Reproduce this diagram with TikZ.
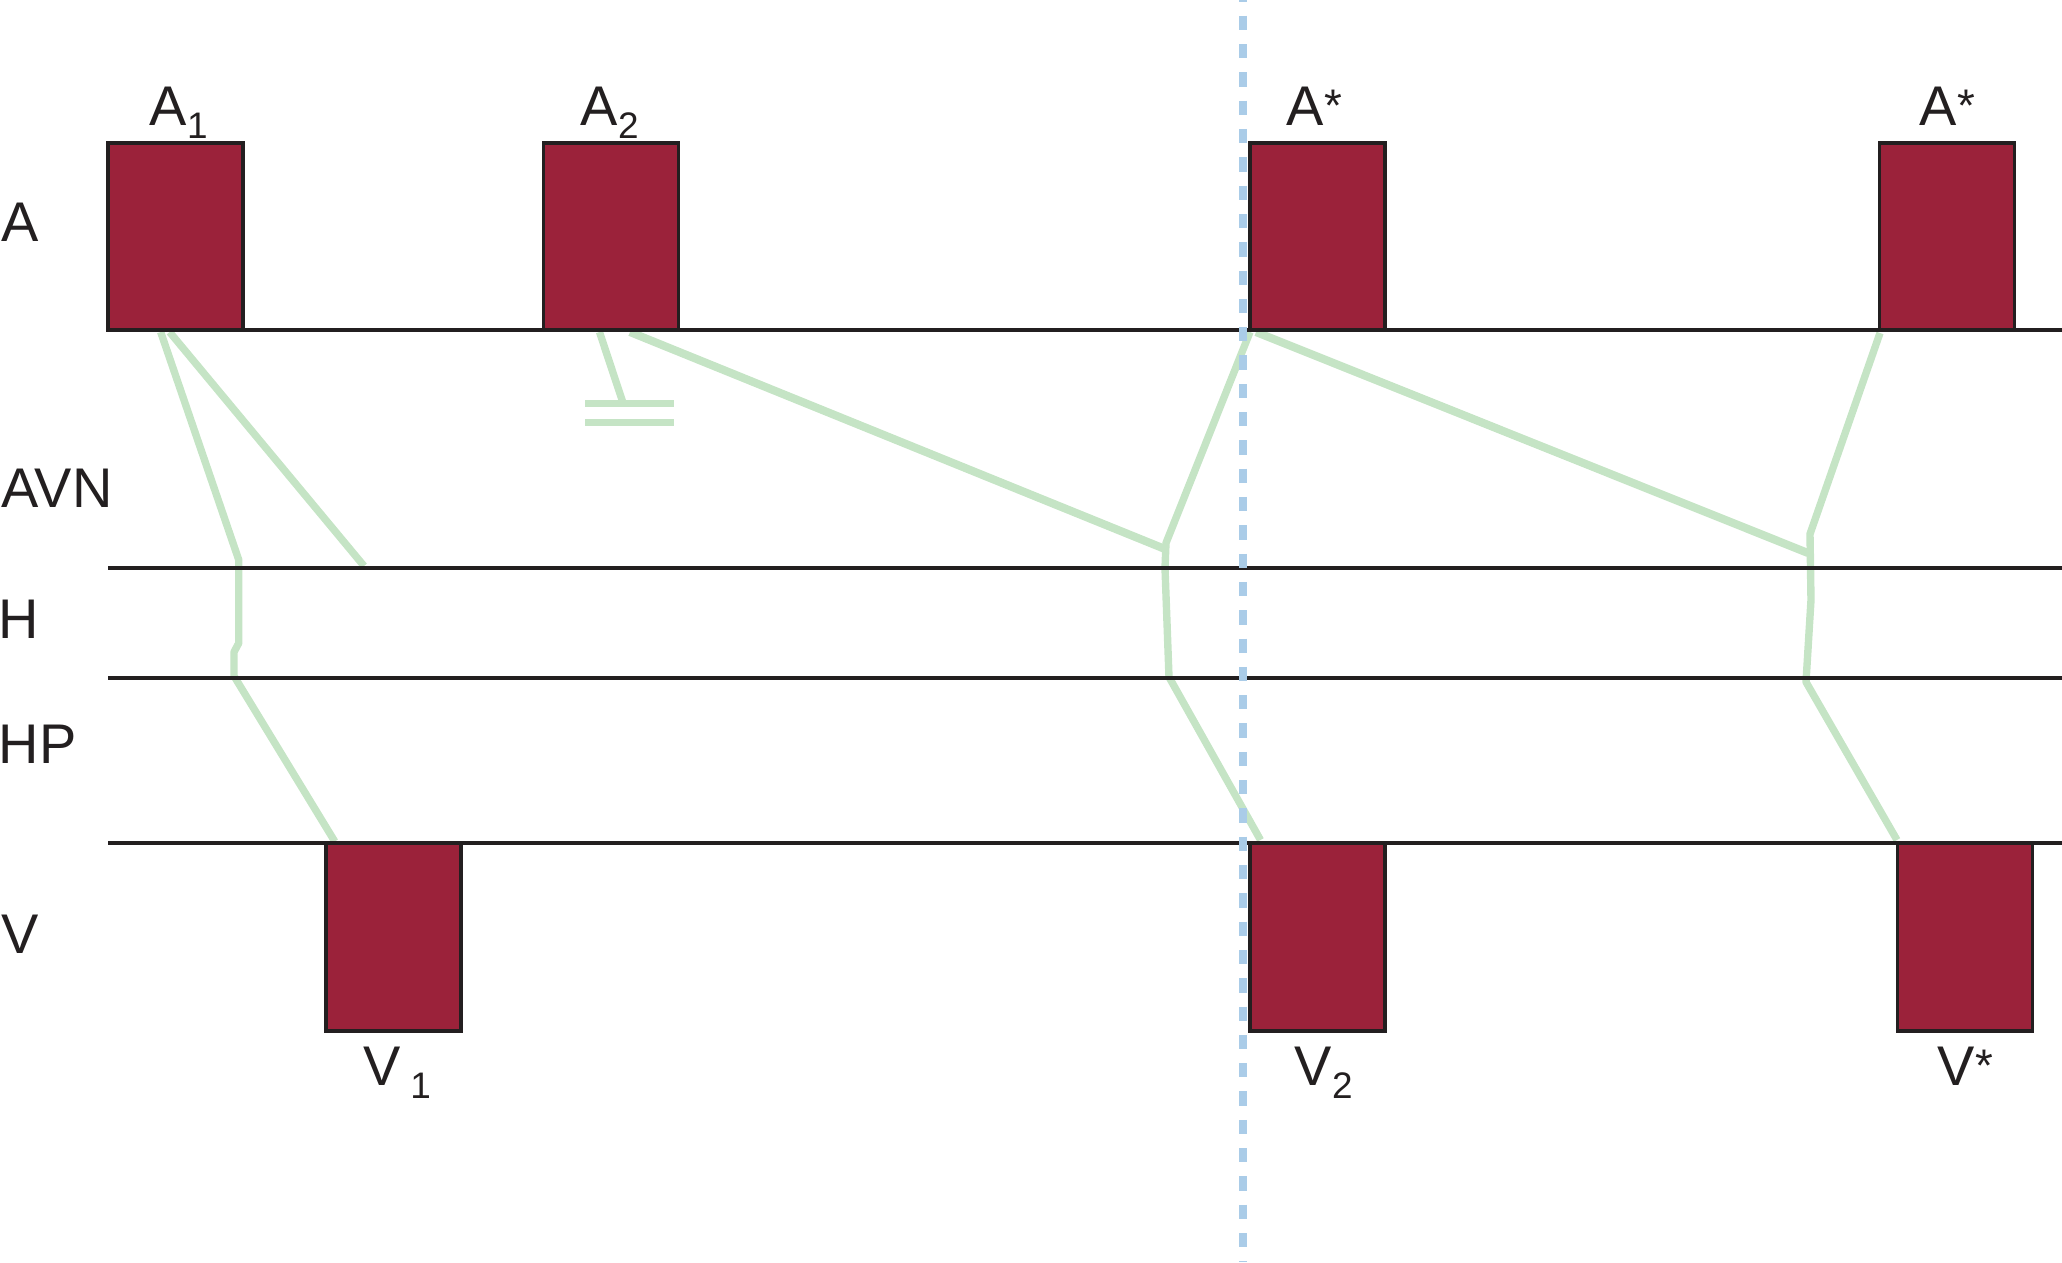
\documentclass[tikz,border=0pt]{standalone}
\usepackage{fontspec}
\setmainfont{Liberation Sans}
\definecolor{inkblack}{RGB}{35,31,32}
\definecolor{pulsered}{RGB}{155,34,58}
\definecolor{condgreen}{RGB}{197,228,197}
\definecolor{markblue}{RGB}{170,204,232}
\newcommand\sbs[1]{\raisebox{-3.8pt}{\fontsize{10.5}{12}\selectfont #1}}
\newcommand\stl{\raisebox{0.9pt}{\fontsize{13}{13}\selectfont *}}
\begin{document}
\begin{tikzpicture}[x=0.01cm,y=-0.01cm,
  axisline/.style={draw=inkblack,line width=1.1pt},
  pulse/.style={draw=inkblack,fill=pulsered,line width=1.1pt,minimum width=1.35cm,minimum height=1.875cm,inner sep=0pt,outer sep=0pt},
  cond/.style={draw=condgreen,line width=2.1pt,line join=round},
  condthick/.style={draw=condgreen,line width=2.3pt,line join=round},
  block/.style={draw=condgreen,line width=2pt},
  lbl/.style={font=\fontsize{15.9}{19}\selectfont,inner sep=0pt,anchor=base west,text=inkblack},
  marker/.style={draw=markblue,line width=2.1pt,dash pattern=on 4.07pt off 3.98pt,dash phase=3.58pt}]
\useasboundingbox (0,0) rectangle (2062,1262);

% coordinates of the ladder
\coordinate (aL) at (108,330);  \coordinate (aR) at (2062,330);
\coordinate (hL) at (108,568);  \coordinate (hR) at (2062,568);
\coordinate (hpL) at (108,678); \coordinate (hpR) at (2062,678);
\coordinate (vL) at (108,843);  \coordinate (vR) at (2062,843);

% conduction paths
\coordinate (p1a) at (160.7,332); \coordinate (p1b) at (238.8,560);
\coordinate (p1c) at (238.8,643); \coordinate (p1d) at (234,652);
\coordinate (p1e) at (234,676); \coordinate (p1f) at (334.8,841.5);
\draw[cond] (p1a) -- (p1b) -- (p1c) -- (p1d) -- (p1e) -- (p1f);

\coordinate (p2a) at (169.6,332); \coordinate (p2b) at (364,566);
\draw[cond] (p2a) -- (p2b);

\coordinate (p3a) at (599.5,332); \coordinate (p3b) at (622.4,401);
\draw[cond] (p3a) -- (p3b);
\coordinate (b1l) at (585,403); \coordinate (b1r) at (674,403);
\coordinate (b2l) at (585,422); \coordinate (b2r) at (674,422);
\draw[block] (b1l) -- (b1r);
\draw[block] (b2l) -- (b2r);

\coordinate (p4a) at (630,332); \coordinate (p4b) at (1165,549);
\draw[condthick] (p4a) -- (p4b);

\coordinate (p5a) at (1250,332); \coordinate (p5b) at (1166,543);
\coordinate (p5c) at (1165,568); \coordinate (p5d) at (1169,677);
\coordinate (p5e) at (1260.5,840);
\draw[cond] (p5a) -- (p5b) -- (p5c) -- (p5d) -- (p5e);

\coordinate (p6a) at (1256,332); \coordinate (p6b) at (1808,553);
\draw[condthick] (p6a) -- (p6b);

\coordinate (p7a) at (1880,333); \coordinate (p7b) at (1810,534);
\coordinate (p7c) at (1811,600); \coordinate (p7d) at (1806,682);
\coordinate (p7e) at (1897,840);
\draw[cond] (p7a) -- (p7b) -- (p7c) -- (p7d) -- (p7e);

% level lines
\draw[axisline] (aL) -- (aR);
\draw[axisline] (hL) -- (hR);
\draw[axisline] (hpL) -- (hpR);
\draw[axisline] (vL) -- (vR);

% pulses
\node[pulse] (A1) at (175.5,236.5) {};
\node[pulse] (A2) at (611,236.5) {};
\node[pulse] (As1) at (1317.75,236.5) {};
\node[pulse] (As2) at (1947,236.5) {};
\node[pulse] (V1) at (393.5,937) {};
\node[pulse] (V2) at (1317.75,937) {};
\node[pulse] (Vs) at (1965,937) {};

% row labels
\node[lbl] (lA) at (1,241.7) {A};
\node[lbl] (lAVN) at (1,507) {AVN};
\node[lbl] (lH) at (-2,638) {H};
\node[lbl] (lHP) at (-2,763) {HP};
\node[lbl] (lV) at (1,953) {V};

% pulse labels
\node[lbl] (tA1) at (149,125) {A\sbs{1}};
\node[lbl] (tA2) at (580,125) {A\sbs{2}};
\node[lbl] (tAs1) at (1286,125) {A\stl};
\node[lbl] (tAs2) at (1919,125) {A\stl};
\node[lbl] (tV1) at (363,1085) {V\,\sbs{1}};
\node[lbl] (tV2) at (1294,1085) {V\sbs{2}};
\node[lbl] (tVs) at (1937,1085) {V\stl};

% marker line
\coordinate (dtop) at (1243,0); \coordinate (dbot) at (1243,1262);
\draw[marker] (dtop) -- (dbot);
\end{tikzpicture}
\end{document}
